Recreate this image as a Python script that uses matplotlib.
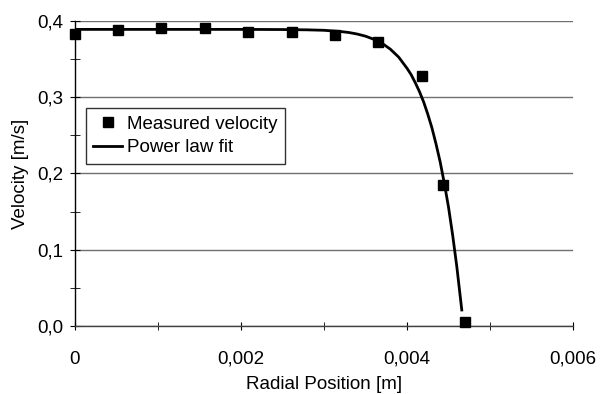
import matplotlib
matplotlib.use("Agg")
import matplotlib.pyplot as plt
from matplotlib.ticker import MultipleLocator, FuncFormatter

# measured points (radial position [m], velocity [m/s])
measured_r = [0.0, 0.00052, 0.00104, 0.00157, 0.00209, 0.00261, 0.00313,
              0.00365, 0.00418, 0.00443, 0.00470]
measured_v = [0.383, 0.388, 0.391, 0.391, 0.386, 0.385, 0.382,
              0.373, 0.328, 0.185, 0.005]

# power law fit curve
fit_r = [0.0, 0.0010, 0.0020, 0.0025, 0.0028, 0.0030, 0.0032, 0.0033,
         0.0034, 0.0035, 0.0036, 0.0037, 0.0038, 0.0039, 0.0040, 0.00405,
         0.0041, 0.00415, 0.0042, 0.00425, 0.0043, 0.00435, 0.0044,
         0.00445, 0.0045, 0.00455, 0.0046, 0.00466]
fit_v = [0.389, 0.389, 0.389, 0.3888, 0.3884, 0.3878, 0.3862, 0.3849,
         0.3829, 0.3801, 0.376, 0.3707, 0.363, 0.3526, 0.338, 0.3296,
         0.319, 0.3074, 0.294, 0.2779, 0.260, 0.2386, 0.215,
         0.1869, 0.156, 0.1192, 0.078, 0.021]

x_ticks = [0, 0.002, 0.004, 0.006]
y_ticks = [0.0, 0.1, 0.2, 0.3, 0.4]

plt.rcParams['font.family'] = ['Liberation Sans', 'DejaVu Sans']
FS = 13.5

fig = plt.figure(figsize=(6.0, 3.94), dpi=100)
ax = fig.add_axes([0.125, 0.1726, 0.83, 0.7741])

ax.plot(measured_r, measured_v, linestyle='none', marker='s', markersize=6.5,
        color='black', label='Measured velocity', clip_on=False, zorder=4)
ax.plot(fit_r, fit_v, color='black', linewidth=2.0, label='Power law fit',
        solid_joinstyle='round', zorder=3)

ax.set_xlim(0, 0.006)
ax.set_ylim(0, 0.4)
ax.set_xticks(x_ticks)
ax.set_yticks(y_ticks)
ax.xaxis.set_minor_locator(MultipleLocator(0.001))
ax.yaxis.set_minor_locator(MultipleLocator(0.05))
ax.xaxis.set_major_formatter(FuncFormatter(
    lambda v, p: '0' if v == 0 else f'{v:.3f}'.replace('.', ',')))
ax.yaxis.set_major_formatter(FuncFormatter(
    lambda v, p: f'{v:.1f}'.replace('.', ',')))

for s in ['top', 'right']:
    ax.spines[s].set_visible(False)
ax.spines['left'].set_color('black')
ax.spines['bottom'].set_color('#404040')
ax.spines['left'].set_linewidth(1.0)
ax.spines['bottom'].set_linewidth(1.0)

ax.yaxis.grid(True, color='#707070', linewidth=1.0)
ax.set_axisbelow(True)

ax.tick_params(axis='both', which='both', direction='inout', labelsize=FS,
               colors='black')
ax.tick_params(axis='x', which='both', length=6, pad=15)
ax.tick_params(axis='y', which='both', length=7, pad=5)

ax.set_xlabel('Radial Position [m]', fontsize=FS, labelpad=6)
ax.set_ylabel('Velocity [m/s]', fontsize=FS, labelpad=6)

leg = ax.legend(loc='upper left', bbox_to_anchor=(0.022, 0.715),
                fontsize=FS, frameon=True, fancybox=False,
                borderaxespad=0, handlelength=1.5, handletextpad=0.3,
                borderpad=0.4, labelspacing=0.35)
leg.get_frame().set_edgecolor('black')
leg.get_frame().set_linewidth(1.0)

fig.savefig('out.png', dpi=100)
